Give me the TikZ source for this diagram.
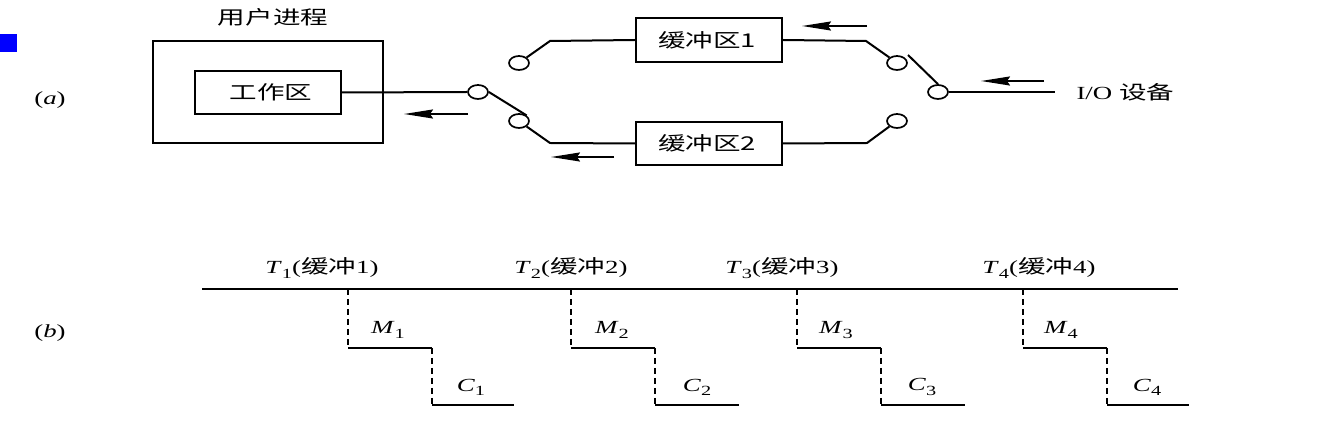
\documentclass[tikz,border=0pt]{standalone}
\usepackage{fontspec}
\setmainfont{Liberation Serif}[FakeStretch=1.45]
\newfontfamily\cjk{Noto Sans CJK SC}[FakeStretch=1.45]
\usetikzlibrary{arrows.meta,shapes.geometric}
\newcommand{\lowsub}[1]{\raisebox{-0.5ex}{\fontsize{14}{14}\selectfont #1}}
\tikzset{
  ln/.style={line width=2pt},
  box/.style={draw, line width=2pt, rectangle, inner sep=0pt},
  sw/.style={draw, line width=1.7pt, ellipse, minimum width=20pt, minimum height=14pt, inner sep=0pt},
  arr/.style={line width=1.9pt, -{Stealth[length=29pt,width=9pt,inset=3pt]}},
  cjktxt/.style={font=\fontsize{19}{22}\selectfont\cjk},
  lat/.style={font=\fontsize{18.5}{21}\selectfont},
  dsh/.style={line width=2pt, dash pattern=on 6pt off 4pt},
}
\begin{document}
\begin{tikzpicture}[x=1pt,y=-1pt]
\useasboundingbox (0,0) rectangle (1326,435);
\fill[blue] (0,34) rectangle (17,52);
% labels
\node[lat] (la) at (50,100) {(\textit{a})};
\node[lat] (lb) at (50,333) {(\textit{b})};
% user process
\node[box, minimum width=230pt, minimum height=102pt] (up) at (268,92) {};
\node[cjktxt] (upl) at (273,17) {用户进程};
\node[box, minimum width=146pt, minimum height=43pt] (wa) at (268,92.5) {};
\node[cjktxt] at (271,92) {工作区};
% buffers
\node[box, minimum width=146pt, minimum height=44pt] (b1) at (709,40) {};
\node[cjktxt] at (707,40) {缓冲区1};
\node[box, minimum width=146pt, minimum height=43pt] (b2) at (709,143.5) {};
\node[cjktxt] at (707,143) {缓冲区2};
% switches
\node[sw] (c1) at (478,92) {};
\node[sw] (c2) at (519,121) {};
\node[sw] (c3) at (519,63) {};
\node[sw] (c4) at (897,63) {};
\node[sw] (c5) at (897,121) {};
\node[sw] (c6) at (938,92) {};
\coordinate (k2) at (550,143);
\coordinate (k3) at (550,41);
\coordinate (k4) at (866,41);
\coordinate (k5) at (867,143);
\coordinate (lv) at (908,55);
\coordinate (io) at (1055,92);
\node[lat, anchor=west] (iol) at (1073,92) {I/O {\cjk\fontsize{19}{22}\selectfont 设备}};
\draw[ln] (wa.east) -- (c1.west);
\draw[ln] (c1.east) -- (c2.north east);
\draw[ln] (c2.south east) -- (k2) -- (b2.west);
\draw[ln] (c3.north east) -- (k3) -- (b1.west);
\draw[ln] (b1.east) -- (k4) -- (c4.north west);
\draw[ln] (b2.east) -- (k5) -- (c5.south west);
\draw[ln] (lv) -- (c6.north);
\draw[ln] (c6.east) -- (io);
% arrows
\coordinate (a1s) at (468,114); \coordinate (a1e) at (404,114);
\coordinate (a2s) at (614,157); \coordinate (a2e) at (551,157);
\coordinate (a3s) at (867,26);  \coordinate (a3e) at (802,26);
\coordinate (a4s) at (1044,81); \coordinate (a4e) at (981,81);
\draw[arr] (a1s) -- (a1e);
\draw[arr] (a2s) -- (a2e);
\draw[arr] (a3s) -- (a3e);
\draw[arr] (a4s) -- (a4e);
% timeline
\draw[ln] (202,289) -- (1178,289);
\foreach \x/\e in {348/514, 571/739, 797/965, 1023/1189}{
  \draw[dsh] (\x,289) -- (\x,348);
  \draw[ln] (\x,348) -- (\x+84,348);
  \draw[dsh] (\x+84,348) -- (\x+84,405);
  \draw[ln] (\x+84,405) -- (\e,405);
}
\foreach \n/\tx/\mx/\cx in {1/322/388/471, 2/571/612/697, 3/782/836/922, 4/1039/1061/1147}{
  \node[lat] at (\tx,268) {\textit{T}\lowsub{\n}({\cjk\fontsize{19}{22}\selectfont 缓冲}\n)};
  \node[lat] at (\mx,330) {\textit{M}\lowsub{\n}};
  \node[lat] at (\cx,387) {\textit{C}\lowsub{\n}};
}
\end{tikzpicture}
\end{document}
